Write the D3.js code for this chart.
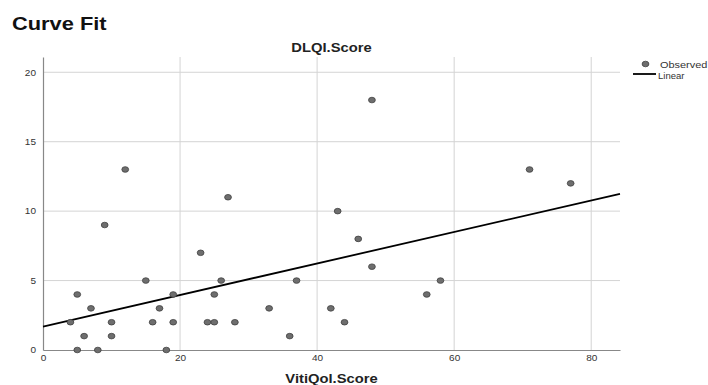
<!DOCTYPE html>
<html lang="en">
<head>
<meta charset="UTF-8">
<script src="https://d3js.org/d3.v7.min.js"></script>
<style>
  body { margin: 0; background: #fff; }
  text { font-family: "Liberation Sans", Arial, sans-serif; }
</style>
</head>
<body>
<div id="chart"></div>
<script>
const vitiqol = [4, 5, 5, 6, 7, 8, 9, 10, 10, 12, 15, 16, 17, 18, 19, 19, 23, 24, 25, 25,
                 26, 27, 28, 33, 36, 37, 42, 43, 44, 46, 48, 48, 56, 58, 71, 77];
const dlqi    = [2, 4, 0, 1, 3, 0, 9, 2, 1, 13, 5, 2, 3, 0, 4, 2, 7, 2, 2, 4,
                 5, 11, 2, 3, 1, 5, 3, 10, 2, 8, 18, 6, 4, 5, 13, 12];
const xTicks = [0, 20, 40, 60, 80];
const yTicks = [0, 5, 10, 15, 20];

const W = 708, H = 385;
const margin = { top: 57, right: 88, bottom: 35, left: 43 };
const width = W - margin.left - margin.right,
      height = H - margin.top - margin.bottom;

// the source picture is a bit wider than tall, so text is stretched horizontally
const stretch = (sel, k) => sel.each(function () {
    const w = this.getComputedTextLength();
    d3.select(this).attr("textLength", w * k).attr("lengthAdjust", "spacingAndGlyphs");
});

const svg = d3.select("#chart").append("svg")
    .attr("width", W).attr("height", H);

svg.append("text").attr("x", 12).attr("y", 30)
    .attr("font-size", 18.5).attr("font-weight", "bold").attr("fill", "#111")
    .text("Curve Fit").call(stretch, 1.18);

const g = svg.append("g")
    .attr("transform", "translate(" + margin.left + "," + margin.top + ")");

const x = d3.scaleLinear().domain([0, 84.2]).range([0, width]);
const y = d3.scaleLinear().domain([0, 21.1]).range([height, 0]);

// grid
g.selectAll(".gx").data(xTicks.slice(1)).enter().append("line")
    .attr("x1", d => x(d)).attr("x2", d => x(d))
    .attr("y1", 0).attr("y2", height)
    .attr("stroke", "#d4d4d4").attr("stroke-width", 1);
g.selectAll(".gy").data(yTicks.slice(1)).enter().append("line")
    .attr("x1", 0).attr("x2", width)
    .attr("y1", d => y(d)).attr("y2", d => y(d))
    .attr("stroke", "#d4d4d4").attr("stroke-width", 1);

// axes
const xAxis = g.append("g").attr("transform", "translate(0," + height + ")")
    .call(d3.axisBottom(x).tickValues(xTicks).tickSize(0).tickPadding(5));
const yAxis = g.append("g")
    .call(d3.axisLeft(y).tickValues(yTicks).tickSize(0).tickPadding(7));
[xAxis, yAxis].forEach(a => {
    a.select(".domain").attr("stroke", "#888").attr("stroke-width", 1.2);
    a.selectAll("text").attr("font-size", 8.5).attr("fill", "#333")
        .attr("font-family", "Liberation Sans, Arial, sans-serif")
        .call(stretch, 1.18);
});

// least squares fit
const n = vitiqol.length;
const mx = d3.mean(vitiqol), my = d3.mean(dlqi);
let sxy = 0, sxx = 0;
for (let i = 0; i < n; i++) {
    sxy += (vitiqol[i] - mx) * (dlqi[i] - my);
    sxx += (vitiqol[i] - mx) ** 2;
}
const slope = sxy / sxx, icpt = my - slope * mx;
const xd = x.domain();
g.append("line")
    .attr("x1", x(xd[0])).attr("y1", y(icpt + slope * xd[0]))
    .attr("x2", x(xd[1])).attr("y2", y(icpt + slope * xd[1]))
    .attr("stroke", "#000").attr("stroke-width", 1.8);

// points
g.selectAll("ellipse").data(vitiqol).enter().append("ellipse")
    .attr("cx", d => x(d)).attr("cy", (d, i) => y(dlqi[i]))
    .attr("rx", 3.4).attr("ry", 2.8)
    .attr("fill", "#6e6e6e").attr("stroke", "#404040").attr("stroke-width", 0.8);

// titles
svg.append("text").attr("x", margin.left + width / 2).attr("y", 52)
    .attr("text-anchor", "middle").attr("font-size", 12.5).attr("font-weight", "bold")
    .attr("fill", "#222").text("DLQI.Score").call(stretch, 1.18);
svg.append("text").attr("x", margin.left + width / 2).attr("y", 383)
    .attr("text-anchor", "middle").attr("font-size", 12.5).attr("font-weight", "bold")
    .attr("fill", "#222").text("VitiQol.Score").call(stretch, 1.18);

// legend
const lg = svg.append("g");
lg.append("ellipse").attr("cx", 645.5).attr("cy", 64).attr("rx", 3.4).attr("ry", 2.8)
    .attr("fill", "#6e6e6e").attr("stroke", "#404040").attr("stroke-width", 0.8);
lg.append("text").attr("x", 660).attr("y", 67.5).attr("font-size", 9.5).attr("fill", "#333")
    .text("Observed").call(stretch, 1.15);
lg.append("line").attr("x1", 633).attr("x2", 656).attr("y1", 74).attr("y2", 74)
    .attr("stroke", "#000").attr("stroke-width", 1.8);
lg.append("text").attr("x", 658).attr("y", 79).attr("font-size", 9.5).attr("fill", "#333")
    .text("Linear").call(stretch, 1.0);
</script>
</body>
</html>
